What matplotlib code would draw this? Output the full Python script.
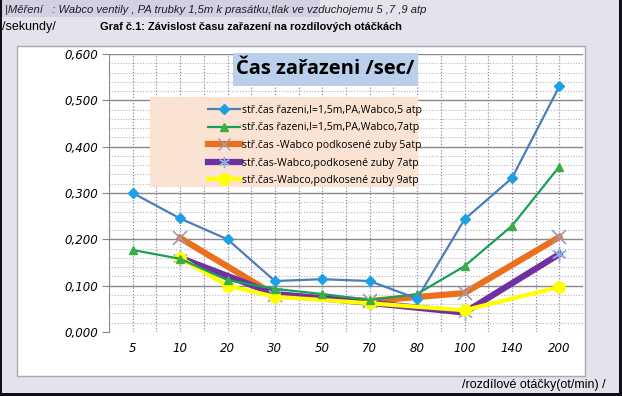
import numpy as np
import matplotlib
matplotlib.use("Agg")
import matplotlib.pyplot as plt
from matplotlib.patches import Rectangle
from matplotlib.lines import Line2D

categories = ["5", "10", "20", "30", "50", "70", "80", "100", "140", "200"]
s1 = [0.300, 0.245, 0.200, 0.110, 0.114, 0.110, 0.072, 0.243, 0.332, 0.530]
s2 = [0.177, 0.158, 0.112, 0.093, 0.082, 0.069, 0.082, 0.142, 0.229, 0.357]
s3 = [None, 0.203, None, 0.080, None, 0.067, None, 0.084, None, 0.205]
s4 = [None, 0.160, None, 0.082, None, 0.063, None, 0.042, None, 0.168]
s5 = [None, 0.160, 0.100, 0.076, None, 0.062, None, 0.047, None, 0.097]
labels = ["stř.čas řazeni,l=1,5m,PA,Wabco,5 atp",
          "stř.čas řazeni,l=1,5m,PA,Wabco,7atp",
          "stř.čas -Wabco podkosené zuby 5atp",
          "stř.čas-Wabco,podkosené zuby 7atp",
          "stř.čas-Wabco,podkosené zuby 9atp"]
yticks = [0.0, 0.1, 0.2, 0.3, 0.4, 0.5, 0.6]

W, H = 622, 396
fig = plt.figure(figsize=(W / 100, H / 100), dpi=100)
fig.patch.set_facecolor("#e3e3ed")

def fx(x): return x / W
def fy(y): return 1 - y / H

def frect(x0, y0, x1, y1, z, **kw):
    r = Rectangle((fx(x0), fy(y1)), (x1 - x0) / W, (y1 - y0) / H,
                  transform=fig.transFigure, zorder=z, **kw)
    fig.patches.append(r)
    return r

frect(0, 0, 320, 17, -2, facecolor="#d4d0e4", edgecolor="none")
frect(17, 46, 585, 376, -1, facecolor="white", edgecolor="#a8a8b0", lw=1.0)
for (x0, y0, x1, y1) in [(0, 0, 2, 396), (619, 0, 622, 396), (0, 393, 622, 396)]:
    frect(x0, y0, x1, y1, 10, facecolor="#101018", edgecolor="none")

fig.text(fx(5), fy(10), "|Měření   : Wabco ventily , PA trubky 1,5m k prasátku,tlak ve vzduchojemu 5 ,7 ,9 atp",
         fontsize=8.1, style="italic", family="Liberation Sans", va="center", ha="left", color="#202020")
fig.text(fx(2), fy(27), "/sekundy/", fontsize=9, family="Liberation Sans", va="center", ha="left")
fig.text(fx(100), fy(27), "Graf č.1: Závislost času zařazení na rozdílových otáčkách",
         fontsize=7.9, family="Liberation Sans", weight="bold", va="center", ha="left")
fig.text(fx(462), fy(385), "/rozdílové otáčky(ot/min) /", fontsize=9, family="Liberation Sans",
         va="center", ha="left")

ax = fig.add_axes([fx(109), fy(332), fx(583 - 109), (332 - 54) / H])
ax.set_zorder(1)
ax.patch.set_alpha(0)
n = len(categories)
x = np.arange(n)
ax.set_xlim(-0.5, n - 0.5)
ax.set_ylim(0, 0.6)

for v in np.arange(-0.5, n - 0.5 + 0.01, 0.5):
    ax.axvline(v, color="#8e86b0", lw=0.9, ls=(0, (1, 1.5)), zorder=1)
for v in np.arange(0, 0.601, 0.02):
    ax.axhline(v, color="#b8b8b8", lw=0.8, ls=(0, (1, 1.5)), zorder=1)
for v in yticks[1:]:
    ax.axhline(v, color="#8a8a8a", lw=1.0, zorder=1.5)

for sp in ["top", "right", "bottom"]:
    ax.spines[sp].set_visible(False)
ax.spines["left"].set_color("#8a8a8a")
ax.set_yticks(yticks)
ax.set_yticklabels([f"{v:.3f}".replace(".", ",") for v in yticks],
                   fontsize=8.5, style="italic", family="DejaVu Sans")
ax.tick_params(axis="y", length=5, color="#8a8a8a", pad=3)
ax.set_xticks(x)
ax.set_xticklabels(categories, fontsize=8.5, style="italic", family="DejaVu Sans")
ax.tick_params(axis="x", length=0, pad=7)

def plot_series(vals, **kw):
    xs = [i for i, v in enumerate(vals) if v is not None]
    ys = [v for v in vals if v is not None]
    return ax.plot(xs, ys, **kw)[0]

h1 = plot_series(s1, color="#4a7ebb", lw=1.6, marker="D", ms=5.5, mfc="#1ea0e6", mec="#1ea0e6", zorder=5)
h2 = plot_series(s2, color="#18a058", lw=1.6, marker="^", ms=6, mfc="#3cae48", mec="#3cae48", zorder=4)
h3 = plot_series(s3, color="#ea7020", lw=4.5, marker="x", ms=10, mec="#a09ab8", mew=1.2, zorder=3)
h4 = plot_series(s4, color="#7030a0", lw=4.5, zorder=3.2)
ax.plot([i for i, v in enumerate(s4) if v is not None], [v for v in s4 if v is not None],
        ls="none", marker=(6, 2, 0), ms=11, mec="#8fb0dc", mew=1.0, zorder=3.3)
h5 = plot_series(s5, color="#ffff00", lw=3, marker="o", ms=8, mfc="#ffff00", mec="#ffff00", zorder=3.5)

# title box
frect(233, 53, 418, 86, 3, facecolor="#b9cfec", edgecolor="none")
fig.text(fx(325), fy(69), "Čas zařazeni /sec/", fontsize=14.5, weight="bold",
         family="Open Sans", ha="center", va="center", zorder=4)

# legend
frect(150, 97, 418, 187, 3, facecolor="#fbe3d3", edgecolor="none")
hd3 = Line2D([], [], color="#ea7020", lw=4.5, marker="x", ms=8, mec="#a09ab8")
hd4 = Line2D([], [], color="#7030a0", lw=4.5, marker=(6, 2, 0), ms=8, mec="#8fb0dc")
leg = fig.legend([h1, h2, hd3, hd4, h5], labels, loc="center left",
                 bbox_to_anchor=(fx(203), fy(145.5)), frameon=False,
                 prop={"family": "Open Sans", "size": 7.6}, handlelength=3.0,
                 handletextpad=0.15, labelspacing=0.62, borderpad=0)
leg.set_zorder(6)

fig.savefig("out.png", dpi=100, facecolor=fig.get_facecolor())
